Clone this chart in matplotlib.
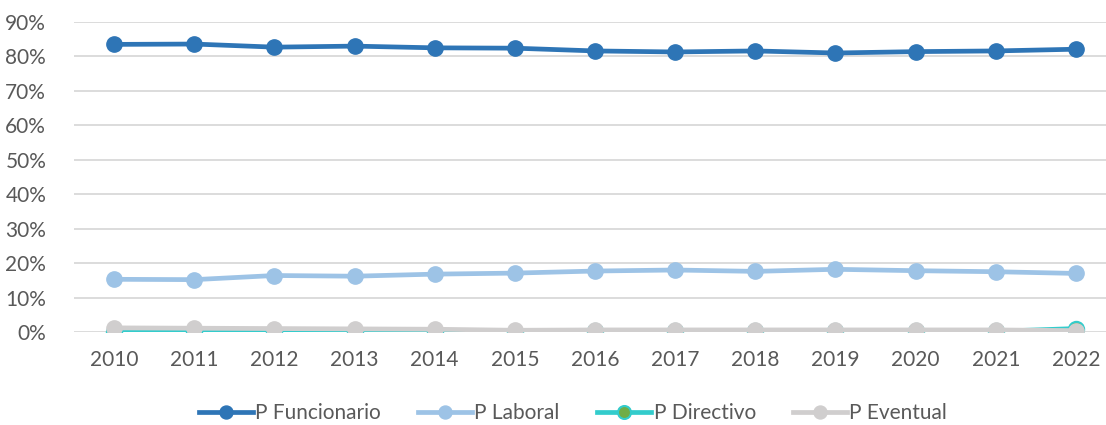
import matplotlib.pyplot as plt
from matplotlib.ticker import PercentFormatter

years = ["2010", "2011", "2012", "2013", "2014", "2015", "2016",
         "2017", "2018", "2019", "2020", "2021", "2022"]
funcionario = [83.5, 83.6, 82.7, 83.0, 82.5, 82.4, 81.6, 81.3, 81.6, 81.0, 81.4, 81.6, 82.1]
laboral = [15.3, 15.2, 16.4, 16.2, 16.8, 17.1, 17.7, 18.0, 17.6, 18.2, 17.8, 17.5, 17.0]
directivo = [0.1, 0.1, 0.1, 0.1, 0.1, 0.1, 0.2, 0.2, 0.2, 0.2, 0.2, 0.2, 1.0]
eventual = [1.2, 1.1, 1.0, 0.9, 0.8, 0.5, 0.6, 0.6, 0.6, 0.6, 0.6, 0.6, 0.4]

plt.rcParams['font.family'] = ['Lato', 'DejaVu Sans']
text_col = "#595959"

fig = plt.figure(figsize=(11.06, 4.25), dpi=100)
ax = fig.add_axes([74 / 1106, 1 - 332 / 425, 1042 / 1106, 310 / 425])

x = range(len(years))
ax.plot(x, funcionario, color="#2E75B6", lw=3.4, marker="o", ms=11, label="P Funcionario", zorder=3)
ax.plot(x, laboral, color="#9DC3E6", lw=3.4, marker="o", ms=11, label="P Laboral", zorder=3)
ax.plot(x, directivo, color="#33CCCC", lw=3.4, marker="o", ms=11, mfc="#70AD47", mec="#33CCCC",
        mew=1.5, label="P Directivo", zorder=3)
ax.plot(x, eventual, color="#D0CECE", lw=3.4, marker="o", ms=11, label="P Eventual", zorder=4)

ax.set_ylim(0, 90)
ax.set_yticks(range(0, 91, 10))
ax.yaxis.set_major_formatter(PercentFormatter(decimals=0))
ax.set_xlim(-0.5, 12.5)
ax.set_xticks(list(x))
ax.set_xticklabels(years)
ax.grid(axis="y", color="#D9D9D9", lw=1.3)
ax.set_axisbelow(True)
for s in ax.spines.values():
    s.set_visible(False)
ax.tick_params(length=0, labelsize=15, colors=text_col)
ax.tick_params(axis="x", pad=13)
ax.tick_params(axis="y", pad=20)

leg = fig.legend(loc="center", bbox_to_anchor=(573 / 1106, 1 - 413 / 425), ncol=4, frameon=False,
                 fontsize=15, handlelength=2.6, columnspacing=1.8, handletextpad=0.1,
                 markerscale=0.85)
for t in leg.get_texts():
    t.set_color(text_col)

fig.savefig("out.png", dpi=100)
